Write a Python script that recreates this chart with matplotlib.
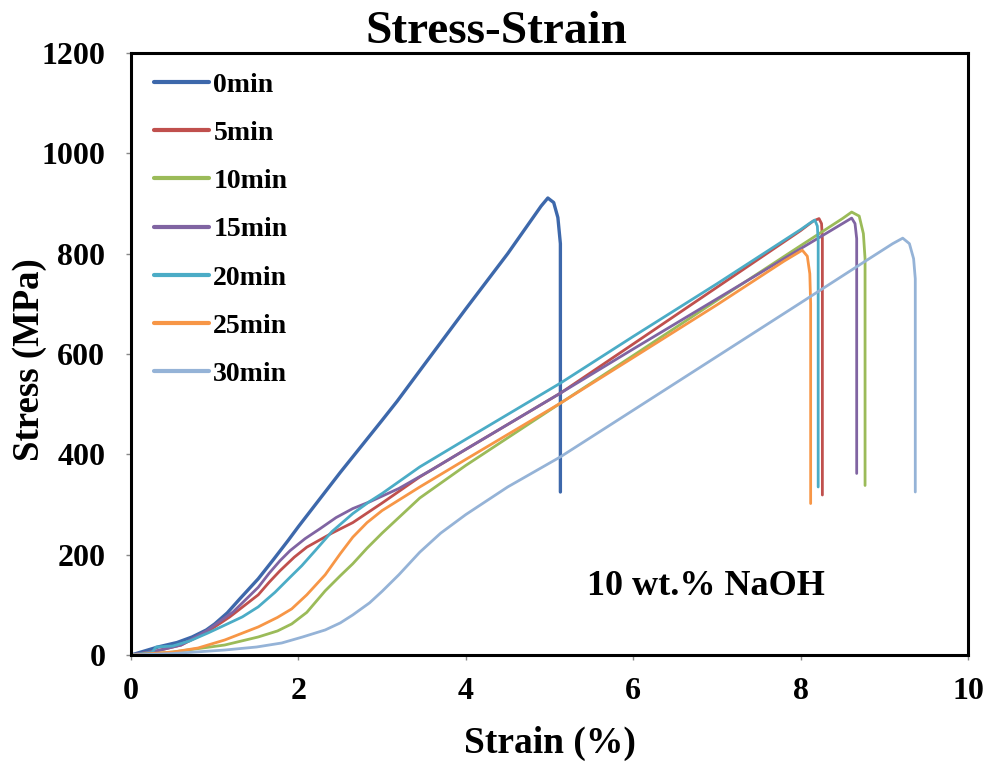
import numpy as np
import matplotlib
matplotlib.use('Agg')
import matplotlib.pyplot as plt

plt.rcParams['font.family'] = ['Liberation Serif', 'DejaVu Serif']
plt.rcParams['font.weight'] = 'bold'

# Data (strain in %, stress in MPa)
strain_0 = [0, 0.32, 0.55, 0.73, 0.9, 1.0, 1.15, 1.3, 1.52, 1.7, 1.88, 2.0, 2.5, 3.0, 3.18, 3.5, 4.0, 4.5, 4.9, 4.98, 5.05, 5.1, 5.13, 5.13]
stress_0 = [0, 16, 25, 36, 50, 62, 84, 112, 152, 190, 229, 256, 364, 468, 506, 578, 690, 800, 895, 911, 902, 872, 820, 325]

strain_5 = [0, 0.3, 0.6, 0.9, 1.18, 1.52, 1.65, 1.78, 1.95, 2.1, 2.4, 2.65, 3.0, 3.45, 4.0, 5.13, 6.0, 7.0, 8.0, 8.15, 8.22, 8.25, 8.26, 8.26]
stress_5 = [0, 8, 20, 45, 76, 120, 145, 168, 195, 215, 243, 264, 303, 355, 410, 522, 620, 733, 846, 865, 870, 860, 830, 319]

strain_10 = [0, 0.5, 1.12, 1.52, 1.75, 1.92, 2.1, 2.32, 2.5, 2.65, 2.82, 3.0, 3.45, 4.0, 5.13, 6.0, 7.0, 8.0, 8.5, 8.61, 8.7, 8.75, 8.77, 8.77]
stress_10 = [0, 6, 20, 36, 48, 62, 85, 128, 158, 182, 213, 243, 313, 378, 502, 597, 707, 816, 870, 883, 875, 840, 790, 338]

strain_15 = [0, 0.3, 0.6, 0.9, 1.22, 1.52, 1.65, 1.78, 1.9, 2.08, 2.26, 2.45, 2.65, 2.86, 3.2, 3.6, 4.0, 5.13, 6.0, 7.0, 8.0, 8.5, 8.61, 8.65, 8.67, 8.67]
stress_15 = [0, 8, 20, 48, 86, 135, 163, 188, 208, 232, 252, 274, 292, 306, 332, 370, 410, 522, 610, 710, 810, 860, 871, 860, 830, 362]

strain_20 = [0, 0.25, 0.3, 0.5, 0.7, 0.92, 1.1, 1.33, 1.52, 1.72, 1.9, 2.04, 2.2, 2.4, 2.65, 2.85, 3.0, 3.45, 4.0, 5.13, 6.0, 7.0, 8.0, 8.12, 8.17, 8.2, 8.21, 8.21]
stress_20 = [0, 5, 16, 18, 28, 44, 58, 76, 96, 125, 155, 178, 208, 246, 282, 306, 322, 375, 430, 542, 635, 740, 848, 862, 867, 855, 825, 335]

strain_25 = [0, 0.5, 0.8, 1.12, 1.52, 1.75, 1.92, 2.1, 2.32, 2.5, 2.65, 2.82, 3.0, 3.45, 4.0, 5.13, 6.0, 7.0, 7.8, 8.02, 8.08, 8.11, 8.12, 8.12]
stress_25 = [0, 6, 14, 30, 56, 75, 92, 120, 160, 202, 235, 264, 288, 335, 390, 502, 593, 698, 785, 807, 795, 760, 700, 302]

strain_30 = [0, 0.5, 1.12, 1.5, 1.8, 2.05, 2.32, 2.5, 2.65, 2.85, 3.0, 3.2, 3.45, 3.7, 4.0, 4.5, 5.13, 6.0, 7.0, 8.0, 8.8, 9.1, 9.22, 9.3, 9.35, 9.37, 9.37]
stress_30 = [0, 3, 10, 16, 24, 36, 50, 64, 80, 104, 127, 160, 205, 243, 280, 335, 395, 488, 595, 702, 788, 820, 831, 820, 790, 750, 325]

labels = ['0min', '5min', '10min', '15min', '20min', '25min', '30min']
colors = ['#3d68ab', '#c0504d', '#9bbb59', '#8064a2', '#4bacc6', '#f79646', '#95b3d7']

series = [
    (strain_0, stress_0), (strain_5, stress_5), (strain_10, stress_10),
    (strain_15, stress_15), (strain_20, stress_20), (strain_25, stress_25),
    (strain_30, stress_30),
]

fig = plt.figure(figsize=(9.91, 7.63), dpi=100)
ax = fig.add_axes([0.1322, 0.1415, 0.8446, 0.789])

for (x, y), lab, c in zip(series, labels, colors):
    lw = 2.4 if lab == '0min' else 2.0
    ax.plot(x, y, color=c, linewidth=lw, label=lab, solid_capstyle='round', solid_joinstyle='round')

ax.set_xlim(0, 10)
ax.set_ylim(0, 1200)
ax.set_xticks(np.arange(0, 11, 2))
ax.set_yticks(np.arange(0, 1201, 200))

for s in ax.spines.values():
    s.set_linewidth(2.2)
    s.set_color('black')

ax.tick_params(direction='out', length=3.5, width=1, color='#888888', labelsize=23)
ax.tick_params(axis='x', pad=12)
ax.tick_params(axis='y', pad=15)
for t in ax.get_xticklabels() + ax.get_yticklabels():
    t.set_fontweight('bold')

ax.set_xlabel('Strain (%)', fontsize=27, fontweight='bold')
ax.set_ylabel('Stress (MPa)', fontsize=26.5, fontweight='bold')
ax.xaxis.set_label_coords(0.5, -0.117)
ax.yaxis.set_label_coords(-0.1, 0.49)
ax.set_title('Stress-Strain', fontsize=34, fontweight='bold', pad=2, x=0.436)

ax.text(5.45, 137, '10 wt.% NaOH', fontsize=26, fontweight='bold', va='center', ha='left')

leg = ax.legend(loc='upper left', bbox_to_anchor=(0.028, 0.968), frameon=False,
                fontsize=20, handlelength=1.98, handletextpad=0.14,
                labelspacing=0.82, borderpad=0, borderaxespad=0)
for t in leg.get_texts():
    t.set_fontweight('bold')
for h in leg.get_lines():
    h.set_linewidth(3)

fig.savefig('out.png', dpi=100)
